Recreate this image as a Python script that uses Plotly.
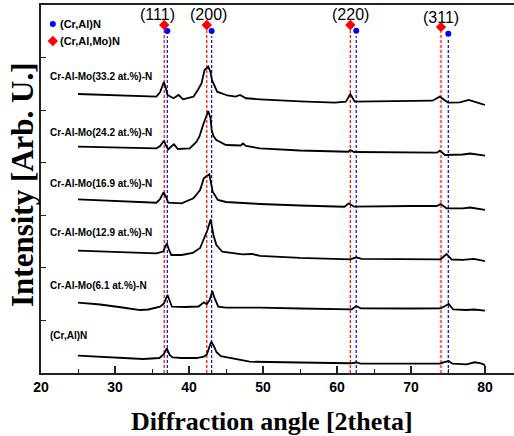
import plotly.graph_objects as go

# ---------------- data ----------------
sample_labels = [
    "(Cr,Al)N",
    "Cr-Al-Mo(6.1 at.%)-N",
    "Cr-Al-Mo(12.9 at.%)-N",
    "Cr-Al-Mo(16.9 at.%)-N",
    "Cr-Al-Mo(24.2 at.%)-N",
    "Cr-Al-Mo(33.2 at.%)-N",
]

cral_x = [25, 30, 33.8, 36.0, 36.6, 37.0, 37.4, 37.8, 39, 41, 42.0, 42.4, 42.7, 43.0, 43.3, 43.7, 44.3, 45.5,
          48.2, 55, 61.8, 62.6, 63.2, 70, 73.9, 74.6, 75.1, 75.6, 77.5, 78.6, 79.3, 79.8, 80]
cral_y = [0.33, 0.295, 0.266, 0.285, 0.36, 0.47, 0.34, 0.295, 0.285, 0.285, 0.31, 0.35, 0.49, 0.595, 0.53, 0.40,
          0.32, 0.285, 0.215, 0.20, 0.185, 0.20, 0.18, 0.18, 0.177, 0.21, 0.228, 0.177, 0.165, 0.204, 0.19, 0.165, 0.14]

mo61_x = [25, 28, 31, 33.4, 34.5, 36.1, 36.6, 37.1, 37.4, 37.7, 39.5, 41.3, 42.0, 42.4, 42.8, 43.15, 43.5, 43.96,
          45, 49.6, 55, 62.0, 62.6, 63.2, 70, 74.0, 74.5, 75.1, 75.7, 77.5, 78.5, 80]
mo61_y = [1.337, 1.303, 1.246, 1.198, 1.208, 1.261, 1.322, 1.484, 1.37, 1.261, 1.255, 1.265, 1.345, 1.307, 1.389,
          1.56, 1.408, 1.261, 1.242, 1.242, 1.227, 1.212, 1.274, 1.231, 1.227, 1.231, 1.265, 1.313, 1.208, 1.198,
          1.208, 1.185]

mo129_x = [25, 30, 35.6, 36.5, 37.0, 37.3, 37.6, 39, 40.5, 41.5, 42.16, 42.5, 42.93, 43.3, 43.7, 44.5, 47.2, 48.5,
           49.6, 55, 61.8, 62.6, 63.3, 70, 74.0, 74.8, 75.5, 77, 78.5, 80]
mo129_y = [2.326, 2.302, 2.277, 2.311, 2.467, 2.340, 2.245, 2.245, 2.283, 2.378, 2.625, 2.72, 2.924, 2.625, 2.435,
           2.307, 2.258, 2.264, 2.226, 2.188, 2.163, 2.201, 2.169, 2.169, 2.163, 2.264, 2.159, 2.150, 2.169, 2.130]

mo169_x = [25, 30, 35.6, 36.1, 36.55, 36.9, 37.2, 39, 40.6, 41.5, 42.0, 42.3, 42.75, 43.2, 43.9, 45, 47.2, 49.6,
           55, 61, 61.6, 62.3, 70, 73.5, 74.0, 74.8, 77, 78, 80]
mo169_y = [3.304, 3.272, 3.239, 3.31, 3.437, 3.348, 3.239, 3.228, 3.323, 3.481, 3.704, 3.738, 3.780, 3.449, 3.291,
           3.253, 3.228, 3.215, 3.186, 3.163, 3.228, 3.163, 3.177, 3.177, 3.215, 3.133, 3.133, 3.148, 3.101]

mo242_x = [25, 30, 35.6, 36.1, 36.6, 37.0, 37.2, 37.6, 37.97, 38.5, 40.1, 41.0, 41.4, 41.9, 42.16, 42.6, 42.9,
           43.06, 43.3, 43.7, 45, 47.0, 47.3, 47.7, 49.6, 55, 61.5, 61.8, 62.3, 70, 73.5, 73.9, 74.6, 77, 78, 80]
mo242_y = [4.305, 4.289, 4.274, 4.318, 4.419, 4.299, 4.255, 4.308, 4.350, 4.261, 4.274, 4.394, 4.495, 4.717, 4.813,
           4.984, 4.851, 4.622, 4.508, 4.432, 4.337, 4.328, 4.366, 4.318, 4.274, 4.232, 4.209, 4.242, 4.204, 4.194,
           4.191, 4.229, 4.147, 4.156, 4.175, 4.134]

mo332_x = [25, 30, 35.6, 36.1, 36.6, 36.9, 37.1, 37.9, 38.6, 39.2, 40.6, 41.2, 41.7, 42.1, 42.6, 42.9, 43.1, 43.8,
           45.2, 46.3, 46.9, 47.7, 49.6, 55, 59.7, 61.2, 61.8, 62.4, 70, 72.9, 73.9, 75, 76.6, 77.8, 79.3, 80]
mo332_y = [5.307, 5.279, 5.256, 5.345, 5.535, 5.402, 5.288, 5.226, 5.288, 5.206, 5.256, 5.383, 5.511, 5.764, 5.83,
           5.726, 5.574, 5.351, 5.279, 5.256, 5.288, 5.226, 5.206, 5.165, 5.142, 5.161, 5.307, 5.161, 5.174, 5.180,
           5.256, 5.142, 5.146, 5.193, 5.130, 5.098]

hkl_labels = ["(111)", "(200)", "(220)", "(311)"]
cralmo_peaks = [36.65, 42.4, 61.8, 74.05]   # (Cr,Al,Mo)N reference positions
cral_peaks = [37.07, 43.06, 62.6, 75.04]    # (Cr,Al)N reference positions
cralmo_marker_y = [6.62, 6.62, 6.62, 6.58]
cral_marker_y = [6.505, 6.505, 6.51, 6.455]

x_ticks = [20, 30, 40, 50, 60, 70, 80]

# ---------------- styling / layout ----------------
curves = [(cral_x, cral_y), (mo61_x, mo61_y), (mo129_x, mo129_y),
          (mo169_x, mo169_y), (mo242_x, mo242_y), (mo332_x, mo332_y)]
label_y = [0.704, 1.655, 2.682, 3.614, 4.584, 5.631]
hkl_label_x = [35.75, 42.57, 61.76, 74.05]
hkl_label_y = [6.81, 6.81, 6.81, 6.77]

fig = go.Figure()

# reference dashed lines
for i, (xr, xb) in enumerate(zip(cralmo_peaks, cral_peaks)):
    red_col = "rgba(240,90,90,0.85)" if i == 3 else "red"
    red_w = 2.4 if i == 3 else 1.2
    fig.add_trace(go.Scatter(x=[xr, xr], y=[0, cralmo_marker_y[i] - 0.1], mode="lines",
                             line=dict(color=red_col, width=red_w, dash="3px,2px"),
                             showlegend=False, hoverinfo="skip"))
    fig.add_trace(go.Scatter(x=[xb, xb], y=[0, cral_marker_y[i] - 0.1], mode="lines",
                             line=dict(color="blue", width=1.2, dash="3px,2px"),
                             showlegend=False, hoverinfo="skip"))

# spectra
for (xs, ys), name in zip(curves, sample_labels):
    fig.add_trace(go.Scatter(x=xs, y=ys, mode="lines", name=name,
                             line=dict(color="black", width=1.8), showlegend=False))

# peak markers
fig.add_trace(go.Scatter(x=cralmo_peaks, y=cralmo_marker_y, mode="markers",
                         marker=dict(symbol="diamond", color="red", size=8), showlegend=False))
fig.add_trace(go.Scatter(x=cral_peaks, y=cral_marker_y, mode="markers",
                         marker=dict(symbol="circle", color="blue", size=6), showlegend=False))

# legend glyphs
fig.add_trace(go.Scatter(x=[21.6], y=[6.64], mode="markers",
                         marker=dict(symbol="circle", color="blue", size=6), showlegend=False))
fig.add_trace(go.Scatter(x=[21.6], y=[6.315], mode="markers",
                         marker=dict(symbol="diamond", color="red", size=8), showlegend=False))

annotations = []
annotations.append(dict(x=22.25, y=6.64, text="(Cr,Al)N", showarrow=False, xanchor="left", yanchor="middle",
                        font=dict(family="Arial", size=11, color="black", weight="bold")))
annotations.append(dict(x=22.25, y=6.315, text="(Cr,Al,Mo)N", showarrow=False, xanchor="left", yanchor="middle",
                        font=dict(family="Arial", size=11, color="black", weight="bold")))
for name, ly in zip(sample_labels, label_y):
    annotations.append(dict(x=20.9, y=ly, text=name, showarrow=False, xanchor="left", yanchor="middle",
                            font=dict(family="Arial", size=10, color="black", weight="bold")))
for t, lx, ly in zip(hkl_labels, hkl_label_x, hkl_label_y):
    annotations.append(dict(x=lx, y=ly, text=t, showarrow=False, xanchor="center", yanchor="middle",
                            font=dict(family="Arial", size=16, color="black")))
annotations.append(dict(x=(272 - 41) / 473, y=-(421.5 - 373) / 368, xref="paper", yref="paper",
                        text="Diffraction angle [2theta]", showarrow=False, xanchor="center", yanchor="middle",
                        font=dict(family="Times New Roman", size=26, color="black", weight="bold")))
annotations.append(dict(x=-(41 - 23) / 473, y=(373 - 185) / 368, xref="paper", yref="paper",
                        text="Intensity [Arb. U.]", showarrow=False, textangle=-90,
                        xanchor="center", yanchor="middle",
                        font=dict(family="Times New Roman", size=31, color="black", weight="bold")))

fig.update_layout(
    width=514, height=436,
    margin=dict(l=41, r=0, t=5, b=63),
    paper_bgcolor="white", plot_bgcolor="white",
    annotations=annotations,
    xaxis=dict(range=[20, 20 + 473 / 7.4], tickvals=x_ticks, ticks="inside", ticklen=7, tickwidth=1.5,
               tickcolor="#222", showline=True, linecolor="#222", linewidth=2, mirror=True,
               showgrid=False, zeroline=False,
               minor=dict(dtick=5, ticks="inside", ticklen=4, tickwidth=1.2, tickcolor="#222", showgrid=False),
               tickfont=dict(family="Arial", size=14, color="black", weight="bold")),
    yaxis=dict(range=[0, 7], dtick=1, ticks="inside", ticklen=5, tickwidth=1.2, tickcolor="#222",
               showticklabels=False, showline=True, linecolor="#222", linewidth=2, mirror=False,
               showgrid=False, zeroline=False),
)

fig.write_html("out.html", config={"displayModeBar": False},
               post_script="document.body.style.margin='0';document.body.style.overflow='hidden';")
